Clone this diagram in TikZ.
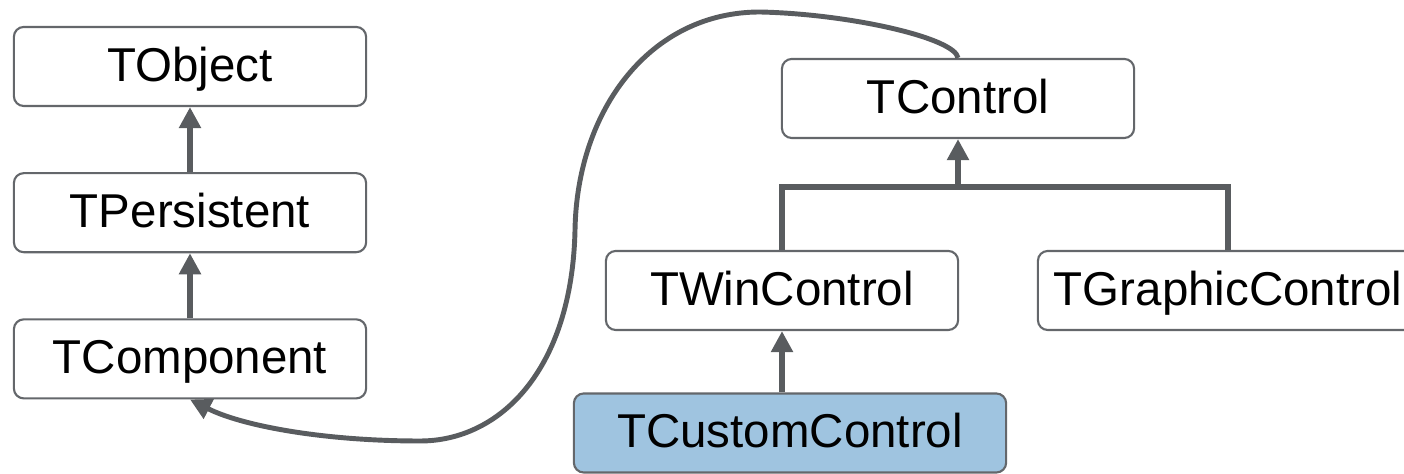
\documentclass[tikz,border=0pt]{standalone}
\usepackage{fontspec}
\setmainfont{Liberation Sans}
\usepackage{tikz}
\usetikzlibrary{arrows.meta,positioning}
\definecolor{linegray}{RGB}{89,92,95}
\definecolor{boxgray}{RGB}{100,103,107}
\definecolor{focusblue}{RGB}{159,196,224}
\tikzset{
    class/.style={
                draw=boxgray,
                line width=0.6pt,
                rounded corners=2.8pt,
                minimum width=3.52cm,
                minimum height=0.79cm,
                inner sep=0pt,
                text height=0.84em,
                text depth=0pt,
                text centered,
                font=\fontsize{13.5}{16}\selectfont
            },
        focus/.style={
                class,
                fill=focusblue,
                minimum width=4.32cm
            },
        inherit/.style={
                draw=linegray,
                line width=1.8pt,
                -{Triangle[length=6pt,width=6pt]}
            },
        tie/.style={
                draw=linegray,
                line width=1.8pt
            },
        uses/.style={
                draw=linegray,
                line width=1.4pt,
                -{Triangle[length=6pt,width=6pt]}
            },
}

\begin{document}
\begin{tikzpicture}[x=0.01cm,y=-0.01cm]
  \useasboundingbox (0,0) rectangle (1404,474);
  % Left chain
  \node[class] (tobject) at (190,66.5) {TObject};
  \node[class,below=0.65cm of tobject] (tpersistent) {TPersistent};
  \node[class,below=0.65cm of tpersistent] (tcomponent) {TComponent};
  % Control branch
  \node[class] (tcontrol) at (958,98.5) {TControl};
  \node[class] (twincontrol) at (782,290.5) {TWinControl};
  \node[class,minimum width=3.8cm] (tgraphiccontrol) at (1228,290.5) {TGraphicControl};
  \node[focus] (tcustomcontrol) at (790,433) {TCustomControl};
  % Inheritance arrows
  \draw[inherit] (tpersistent) -- (tobject);
  \draw[inherit] (tcomponent) -- (tpersistent);
  \draw[inherit] (tcustomcontrol.north -| twincontrol) -- (twincontrol);
  \coordinate (join) at (958,187);
  \draw[tie] (twincontrol.north) |- (join) -| (tgraphiccontrol.north);
  \draw[inherit] (join) -- (tcontrol.south);
  % Curved link
  \draw[uses] (tcontrol.north) .. controls (955,38) and (850,14) .. (760,12)
    .. controls (650,12) and (577,110) .. (575,230)
    .. controls (572,370) and (500,441) .. (420,441)
    .. controls (320,441) and (240,425) .. (tcomponent.south);
\end{tikzpicture}
\end{document}
